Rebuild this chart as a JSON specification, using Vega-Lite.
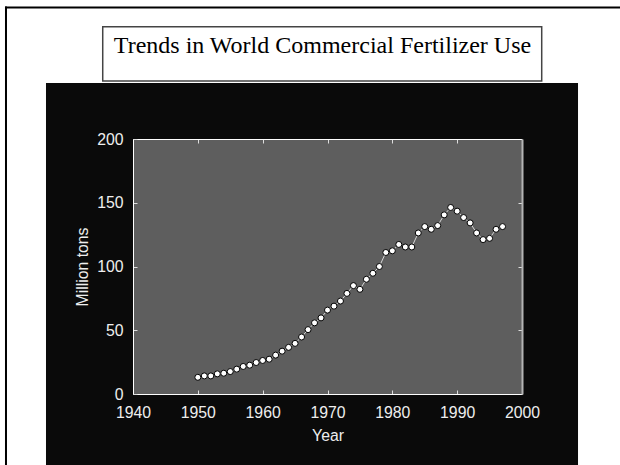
{
  "$schema": "https://vega.github.io/schema/vega-lite/v6.json",
  "width": 389,
  "height": 255,
  "autosize": {"type": "none"},
  "padding": {"left": 133, "top": 139, "right": 98, "bottom": 71},
  "background": "white",
  "config": {
    "view": {"stroke": null},
    "axis": {
      "grid": false,
      "labelFont": "Liberation Sans",
      "titleFont": "Liberation Sans",
      "labelFontSize": 15.8,
      "titleFontSize": 15.8,
      "titleFontWeight": "normal",
      "labelColor": "#eeeeee",
      "titleColor": "#eeeeee",
      "domainColor": "#ffffff",
      "domainWidth": 1,
      "tickColor": "#dddddd",
      "tickSize": -4,
      "labelFlush": false,
      "labelOverlap": false
    }
  },
  "data": {
    "values": [
      {"year": 1950, "tons": 13.1}, {"year": 1951, "tons": 14.2}, {"year": 1952, "tons": 14.2},
      {"year": 1953, "tons": 15.8}, {"year": 1954, "tons": 16.3}, {"year": 1955, "tons": 17.6},
      {"year": 1956, "tons": 19.5}, {"year": 1957, "tons": 21.6}, {"year": 1958, "tons": 22.6},
      {"year": 1959, "tons": 24.7}, {"year": 1960, "tons": 26.3}, {"year": 1961, "tons": 27.3},
      {"year": 1962, "tons": 30.5}, {"year": 1963, "tons": 33.6}, {"year": 1964, "tons": 36.6},
      {"year": 1965, "tons": 39.7}, {"year": 1966, "tons": 44.7}, {"year": 1967, "tons": 50.5},
      {"year": 1968, "tons": 55.8}, {"year": 1969, "tons": 59.7}, {"year": 1970, "tons": 65.8},
      {"year": 1971, "tons": 68.9}, {"year": 1972, "tons": 72.9}, {"year": 1973, "tons": 78.9},
      {"year": 1974, "tons": 85.0}, {"year": 1975, "tons": 82.1}, {"year": 1976, "tons": 90.0},
      {"year": 1977, "tons": 94.7}, {"year": 1978, "tons": 100.0}, {"year": 1979, "tons": 111.0},
      {"year": 1980, "tons": 112.3}, {"year": 1981, "tons": 117.3}, {"year": 1982, "tons": 115.3},
      {"year": 1983, "tons": 115.3}, {"year": 1984, "tons": 126.3}, {"year": 1985, "tons": 131.3},
      {"year": 1986, "tons": 129.2}, {"year": 1987, "tons": 132.1}, {"year": 1988, "tons": 140.5},
      {"year": 1989, "tons": 146.3}, {"year": 1990, "tons": 143.4}, {"year": 1991, "tons": 138.4},
      {"year": 1992, "tons": 134.2}, {"year": 1993, "tons": 126.3}, {"year": 1994, "tons": 121.1},
      {"year": 1995, "tons": 122.1}, {"year": 1996, "tons": 129.2}, {"year": 1997, "tons": 131.3}
    ]
  },
  "layer": [
    {
      "data": {"values": [{}]},
      "mark": {"type": "rect", "color": "#0a0a0a"},
      "encoding": {
        "x": {"datum": 1926.58, "type": "quantitative", "scale": {"domain": [1940, 2000], "nice": false, "zero": false}, "axis": null},
        "x2": {"datum": 2008.64},
        "y": {"datum": 243.92, "type": "quantitative", "scale": {"domain": [0, 200], "nice": false}, "axis": null},
        "y2": {"datum": -56}
      }
    },
    {
      "data": {"values": [{}]},
      "mark": {"type": "rect", "color": "#5e5e5e"},
      "encoding": {
        "x": {"datum": 1940, "type": "quantitative", "scale": {"domain": [1940, 2000], "nice": false, "zero": false}, "axis": null},
        "x2": {"datum": 2000},
        "y": {"datum": 200, "type": "quantitative", "scale": {"domain": [0, 200], "nice": false}, "axis": null},
        "y2": {"datum": 0}
      }
    },
    {
      "data": {"values": [{}]},
      "mark": {"type": "rect", "fill": "#ffffff", "stroke": "#444444", "strokeWidth": 1.5},
      "encoding": {
        "x": {"datum": 1935.33, "type": "quantitative", "scale": {"domain": [1940, 2000], "nice": false, "zero": false}, "axis": null},
        "x2": {"datum": 2003.04},
        "y": {"datum": 288.08, "type": "quantitative", "scale": {"domain": [0, 200], "nice": false}, "axis": null},
        "y2": {"datum": 245.49}
      }
    },
    {
      "data": {"values": [{}]},
      "mark": {"type": "text", "text": "Trends in World Commercial Fertilizer Use", "font": "Liberation Serif", "fontSize": 24, "align": "center", "baseline": "alphabetic", "color": "#000000"},
      "encoding": {
        "x": {"datum": 1969.23, "type": "quantitative", "scale": {"domain": [1940, 2000], "nice": false, "zero": false}, "axis": null},
        "y": {"datum": 267.14, "type": "quantitative", "scale": {"domain": [0, 200], "nice": false}, "axis": null}
      }
    },
    {
      "data": {"values": [{}]},
      "mark": {"type": "rule", "color": "#000000", "strokeWidth": 2},
      "encoding": {
        "x": {"datum": 1920.41, "type": "quantitative", "scale": {"domain": [1940, 2000], "nice": false, "zero": false}, "axis": null},
        "y": {"datum": 303.9, "type": "quantitative", "scale": {"domain": [0, 200], "nice": false}, "axis": null},
        "y2": {"datum": -60}
      }
    },
    {
      "data": {"values": [{}]},
      "mark": {"type": "rule", "color": "#000000", "strokeWidth": 2},
      "encoding": {
        "x": {"datum": 1920.26, "type": "quantitative", "scale": {"domain": [1940, 2000], "nice": false, "zero": false}, "axis": null},
        "x2": {"datum": 2020},
        "y": {"datum": 303.14, "type": "quantitative", "scale": {"domain": [0, 200], "nice": false}, "axis": null}
      }
    },
    {
      "mark": {"type": "line", "color": "#d8d8d8", "strokeWidth": 1},
      "encoding": {
        "x": {
          "field": "year", "type": "quantitative",
          "scale": {"domain": [1940, 2000], "nice": false, "zero": false},
          "axis": {"orient": "bottom", "zindex": 1, "values": [1940, 1950, 1960, 1970, 1980, 1990, 2000], "format": "d", "title": "Year", "labelPadding": 15.5, "titlePadding": 8}
        },
        "y": {
          "field": "tons", "type": "quantitative",
          "scale": {"domain": [0, 200], "nice": false},
          "axis": {"orient": "left", "zindex": 1, "values": [0, 50, 100, 150, 200], "title": "Million tons", "labelPadding": 14, "titlePadding": 6}
        }
      }
    },
    {
      "mark": {"type": "point", "filled": true, "fill": "#ffffff", "stroke": "#000000", "strokeWidth": 1, "size": 36, "opacity": 1},
      "encoding": {
        "x": {
          "field": "year", "type": "quantitative",
          "scale": {"domain": [1940, 2000], "nice": false, "zero": false},
          "axis": {"orient": "top", "zindex": 1, "values": [1950, 1960, 1970, 1980, 1990], "labels": false, "title": null, "domainColor": "#ffffff"}
        },
        "y": {
          "field": "tons", "type": "quantitative",
          "scale": {"domain": [0, 200], "nice": false},
          "axis": {"orient": "right", "zindex": 1, "values": [50, 100, 150], "labels": false, "title": null, "domainColor": "#b4b4b4", "domainWidth": 2}
        }
      }
    }
  ],
  "resolve": {"axis": {"x": "independent", "y": "independent"}}
}
